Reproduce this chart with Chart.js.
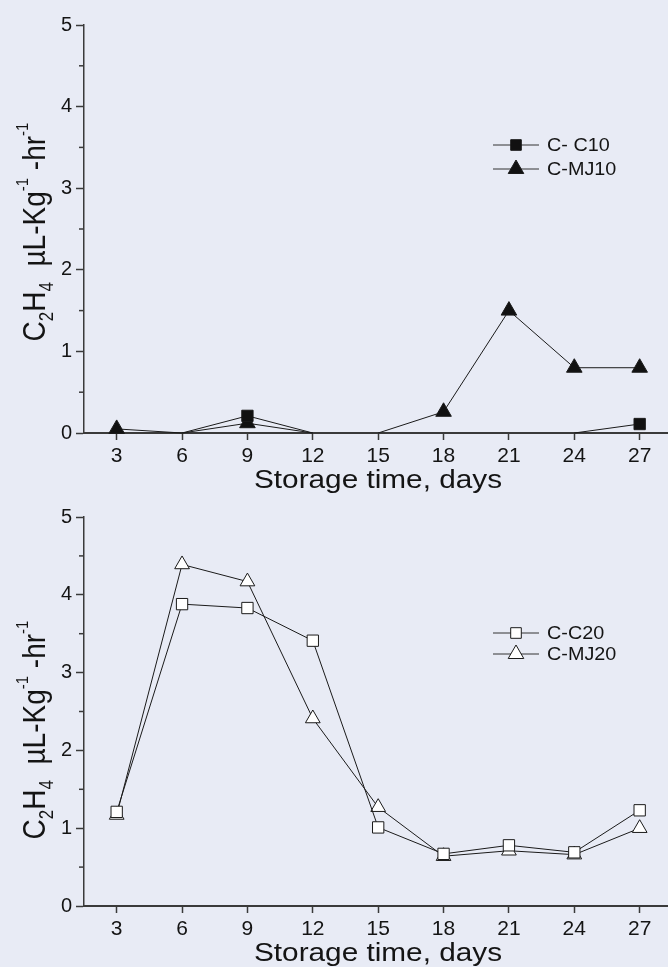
<!DOCTYPE html>
<html>
<head>
<meta charset="utf-8">
<script src="https://cdn.jsdelivr.net/npm/chart.js@4/dist/chart.umd.min.js"></script>
<style>
  body { margin: 0; background: #e8ebf5; }
  #wrap { position: relative; width: 668px; height: 967px; background: #e8ebf5; }
  canvas { position: absolute; left: 0; }
</style>
</head>
<body>
<div id="wrap">
  <canvas id="top" width="668" height="500" style="top:0"></canvas>
  <canvas id="bottom" width="668" height="477" style="top:490px"></canvas>
</div>
<script>
// storage days and ethylene values, C2H4 uL/kg/hr
var days = [3, 6, 9, 12, 15, 18, 21, 24, 27];
var yTicks = [0, 1, 2, 3, 4, 5];
var yMinor = [0.5, 1.5, 2.5, 3.5, 4.5];

var cC10 = [0, 0, 0.21, 0, 0, 0, 0, 0, 0.11];
var cMJ10 = [0.05, 0, 0.12, 0, 0, 0.26, 1.5, 0.8, 0.8];
var cC20 = [1.21, 3.88, 3.83, 3.41, 1.01, 0.67, 0.78, 0.69, 1.23];
var cMJ20 = [1.17, 4.39, 4.17, 2.41, 1.27, 0.64, 0.71, 0.66, 1.0];

var FONT = "'Liberation Sans', Arial, sans-serif";
var axisColor = "#3a3a3a";
var ink = "#141414";

function pts(vals) {
  return days.map(function (d, i) { return { x: d, y: vals[i] }; });
}

function marker(ctx, style, r, x, y, fill, stroke) {
  ctx.beginPath();
  if (style === "rect") {
    var s = r * Math.SQRT1_2;
    ctx.rect(x - s, y - s, 2 * s, 2 * s);
  } else {
    var a = 0;
    ctx.moveTo(x + Math.sin(a) * r, y - Math.cos(a) * r);
    a += Math.PI * 2 / 3;
    ctx.lineTo(x + Math.sin(a) * r, y - Math.cos(a) * r);
    a += Math.PI * 2 / 3;
    ctx.lineTo(x + Math.sin(a) * r, y - Math.cos(a) * r);
    ctx.closePath();
  }
  ctx.fillStyle = fill;
  ctx.fill();
  ctx.strokeStyle = stroke;
  ctx.lineWidth = 1;
  ctx.stroke();
}

// titles, minor ticks and the legend are drawn here
var decor = {
  id: "decor",
  afterDraw: function (chart, args, opts) {
    var ctx = chart.ctx;
    var area = chart.chartArea;
    var ys = chart.scales.y;
    ctx.save();

    // minor y ticks
    ctx.strokeStyle = axisColor;
    ctx.lineWidth = 1.5;
    yMinor.forEach(function (v) {
      var py = ys.getPixelForValue(v);
      ctx.beginPath();
      ctx.moveTo(area.left - 5, py);
      ctx.lineTo(area.left, py);
      ctx.stroke();
    });

    // x title
    ctx.save();
    ctx.translate(378, area.bottom + 55);
    ctx.scale(1.19, 1);
    ctx.font = "25px " + FONT;
    ctx.fillStyle = ink;
    ctx.textAlign = "center";
    ctx.textBaseline = "alphabetic";
    ctx.fillText("Storage time, days", 0, 0);
    ctx.restore();

    // y title with sub and superscripts
    var parts = [
      { t: "C", s: 28, dy: 0 },
      { t: "2", s: 17, dy: 7 },
      { t: "H", s: 28, dy: 0 },
      { t: "4", s: 17, dy: 7 },
      { t: "  \u00b5L-Kg", s: 28, dy: 0 },
      { t: "-1", s: 15, dy: -15 },
      { t: " -hr", s: 28, dy: 0 },
      { t: "-1", s: 15, dy: -15 }
    ];
    ctx.save();
    ctx.translate(45, opts.yTitleY);
    ctx.rotate(-Math.PI / 2);
    ctx.scale(1, 1.15);
    ctx.fillStyle = ink;
    ctx.textBaseline = "alphabetic";
    ctx.textAlign = "left";
    var total = 0;
    parts.forEach(function (p) {
      ctx.font = p.s + "px " + FONT;
      p.w = ctx.measureText(p.t).width;
      total += p.w;
    });
    var cx = -total / 2;
    parts.forEach(function (p) {
      ctx.font = p.s + "px " + FONT;
      ctx.fillText(p.t, cx, p.dy);
      cx += p.w;
    });
    ctx.restore();

    // legend
    opts.items.forEach(function (it, i) {
      var ly = opts.legendY[i];
      ctx.strokeStyle = "#333";
      ctx.lineWidth = 1;
      ctx.beginPath();
      ctx.moveTo(493, ly);
      ctx.lineTo(539, ly);
      ctx.stroke();
      marker(ctx, it.style, it.r, 516, ly, it.fill, "#1a1a1a");
      ctx.save();
      ctx.translate(547, ly);
      ctx.scale(1.1, 1);
      ctx.font = "18px " + FONT;
      ctx.fillStyle = ink;
      ctx.textBaseline = "middle";
      ctx.fillText(it.label, 0, 1);
      ctx.restore();
    });

    ctx.restore();
  }
};

function makeScales(xHeight) {
  return {
    x: {
      type: "linear",
      min: 1.5,
      max: 28.3,
      afterBuildTicks: function (s) {
        s.ticks = days.map(function (v) { return { value: v }; });
      },
      afterFit: function (s) {
        s.height = xHeight;
        s.paddingLeft = 0;
        s.paddingRight = 0;
      },
      grid: { drawOnChartArea: false, tickLength: 7, tickColor: axisColor, tickWidth: 1.5 },
      border: { color: axisColor, width: 2 },
      ticks: { font: { family: FONT, size: 21 }, color: ink, padding: 4, maxRotation: 0, autoSkip: false }
    },
    y: {
      min: 0,
      max: 5,
      afterBuildTicks: function (s) {
        s.ticks = yTicks.map(function (v) { return { value: v }; });
      },
      afterFit: function (s) {
        s.width = 84;
        s.paddingTop = 0;
        s.paddingBottom = 0;
      },
      grid: { drawOnChartArea: false, tickLength: 8, tickColor: axisColor, tickWidth: 1.5 },
      border: { color: axisColor, width: 1.5 },
      ticks: { font: { family: FONT, size: 20 }, color: ink, padding: 4 }
    }
  };
}

function series(label, vals, style, r, fill) {
  return {
    label: label,
    data: pts(vals),
    borderColor: "#1a1a1a",
    borderWidth: 1,
    pointStyle: style,
    pointRadius: function (c) { return c.raw && c.raw.y === 0 ? 0 : r; },
    pointBackgroundColor: fill,
    pointBorderColor: "#1a1a1a",
    pointBorderWidth: 1,
    tension: 0,
    clip: false,
    segment: {
      borderColor: function (c) {
        return c.p0.parsed.y === 0 && c.p1.parsed.y === 0 ? "rgba(0,0,0,0)" : undefined;
      }
    }
  };
}

// top: C10 / MJ10
var topChart = new Chart(document.getElementById("top"), {
  type: "line",
  data: {
    datasets: [
      series("C- C10", cC10, "rect", 8, "#111"),
      series("C-MJ10", cMJ10, "triangle", 9, "#111")
    ]
  },
  options: {
    responsive: false,
    animation: false,
    layout: { autoPadding: false, padding: { top: 25, right: 0, bottom: 0, left: 0 } },
    plugins: {
      legend: { display: false },
      tooltip: { enabled: false },
      decor: {
        yTitleY: 232,
        legendY: [145, 169],
        items: [
          { label: "C- C10", style: "rect", r: 7.5, fill: "#111" },
          { label: "C-MJ10", style: "triangle", r: 9, fill: "#111" }
        ]
      }
    },
    scales: makeScales(67)
  },
  plugins: [decor]
});

// bottom: C20 / MJ20
var bottomChart = new Chart(document.getElementById("bottom"), {
  type: "line",
  data: {
    datasets: [
      series("C-C20", cC20, "rect", 8, "#ffffff"),
      series("C-MJ20", cMJ20, "triangle", 8.5, "#ffffff")
    ]
  },
  options: {
    responsive: false,
    animation: false,
    layout: { autoPadding: false, padding: { top: 27, right: 0, bottom: 0, left: 0 } },
    plugins: {
      legend: { display: false },
      tooltip: { enabled: false },
      decor: {
        yTitleY: 240,
        legendY: [143, 164],
        items: [
          { label: "C-C20", style: "rect", r: 7.5, fill: "#ffffff" },
          { label: "C-MJ20", style: "triangle", r: 9, fill: "#ffffff" }
        ]
      }
    },
    scales: makeScales(61)
  },
  plugins: [decor]
});
</script>
</body>
</html>
